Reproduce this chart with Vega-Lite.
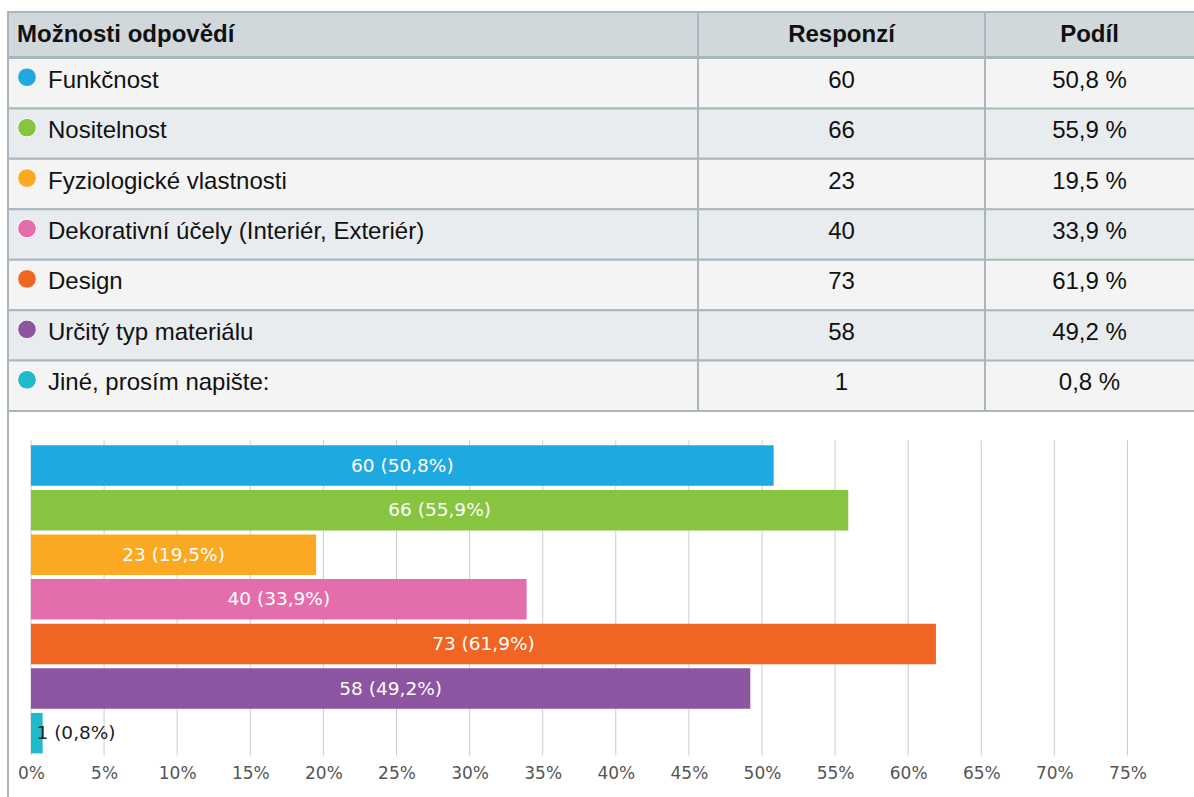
{
  "$schema": "https://vega.github.io/schema/vega-lite/v6.json",
  "padding": {"left": 7, "top": 11, "right": 0, "bottom": 0},
  "background": "white",
  "config": {"view": {"stroke": null}, "font": "Liberation Sans"},
  "datasets": {
    "options": [
      {"option": "Funkčnost", "count": 60, "share": 50.8},
      {"option": "Nositelnost", "count": 66, "share": 55.9},
      {"option": "Fyziologické vlastnosti", "count": 23, "share": 19.5},
      {"option": "Dekorativní účely (Interiér, Exteriér)", "count": 40, "share": 33.9},
      {"option": "Design", "count": 73, "share": 61.9},
      {"option": "Určitý typ materiálu", "count": 58, "share": 49.2},
      {"option": "Jiné, prosím napište:", "count": 1, "share": 0.8}
    ],
    "grid": [{"v": 0}, {"v": 5}, {"v": 10}, {"v": 15}, {"v": 20}, {"v": 25}, {"v": 30}, {"v": 35}, {"v": 40}, {"v": 45}, {"v": 50}, {"v": 55}, {"v": 60}, {"v": 65}, {"v": 70}, {"v": 75}]
  },
  "spacing": -2,
  "vconcat": [
    {
      "spacing": 0,
      "bounds": "flush",
      "hconcat": [
        {
          "width": 690, "height": 45,
          "view": {"fill": "#D0D8DC", "stroke": "#A9B7BD", "strokeWidth": 2},
          "data": {"values": [{"h": "Možnosti odpovědí"}]},
          "mark": {"type": "text", "align": "left", "baseline": "middle", "dx": 9, "fontWeight": "bold", "fontSize": 24, "font": "Liberation Sans", "color": "#111111"},
          "encoding": {
            "text": {"field": "h"},
            "x": {"datum": 0, "type": "quantitative", "scale": {"domain": [0, 1], "nice": false}, "axis": null}
          }
        },
        {
          "width": 287, "height": 45,
          "view": {"fill": "#D0D8DC", "stroke": "#A9B7BD", "strokeWidth": 2},
          "data": {"values": [{"h": "Responzí"}]},
          "mark": {"type": "text", "align": "center", "baseline": "middle", "fontWeight": "bold", "fontSize": 24, "font": "Liberation Sans", "color": "#111111"},
          "encoding": {
            "text": {"field": "h"},
            "x": {"datum": 0.5, "type": "quantitative", "scale": {"domain": [0, 1], "nice": false}, "axis": null}
          }
        },
        {
          "width": 209, "height": 45,
          "view": {"fill": "#D0D8DC"},
          "data": {"values": [{"h": "Podíl"}]},
          "encoding": {
            "x": {"datum": 0.5, "type": "quantitative", "scale": {"domain": [0, 1], "nice": false}, "axis": null}
          },
          "layer": [
            {
              "mark": {"type": "text", "align": "center", "baseline": "middle", "fontWeight": "bold", "fontSize": 24, "font": "Liberation Sans", "color": "#111111"},
              "encoding": {"text": {"field": "h"}}
            },
            {
              "mark": {"type": "rule", "color": "#A9B7BD", "strokeWidth": 2},
              "encoding": {"x": {"datum": 0, "type": "quantitative"}}
            },
            {
              "mark": {"type": "rule", "color": "#A9B7BD", "strokeWidth": 2},
              "encoding": {"x": null, "y": {"datum": 0, "type": "quantitative", "scale": {"domain": [0, 1], "nice": false}, "axis": null}}
            },
            {
              "mark": {"type": "rule", "color": "#A9B7BD", "strokeWidth": 2},
              "encoding": {"x": null, "y": {"datum": 1, "type": "quantitative"}}
            }
          ]
        }
      ]
    },
    {
      "spacing": 0,
      "bounds": "flush",
      "hconcat": [
        {
          "width": 690, "height": 353,
          "data": {"name": "options"},
          "layer": [
            {
              "mark": {"type": "rect", "stroke": "#A9B7BD", "strokeWidth": 2},
              "encoding": {
                "y": {"field": "option", "type": "nominal", "sort": null, "scale": {"paddingInner": 0, "paddingOuter": 0, "round": false}, "axis": null},
                "x": {"datum": 0, "type": "quantitative", "scale": {"domain": [0, 1], "nice": false}, "axis": null},
                "x2": {"datum": 1},
                "fill": {"field": "option", "type": "nominal", "scale": {"domain": ["Funkčnost", "Nositelnost", "Fyziologické vlastnosti", "Dekorativní účely (Interiér, Exteriér)", "Design", "Určitý typ materiálu", "Jiné, prosím napište:"], "range": ["#F4F4F4", "#E8ECEE", "#F4F4F4", "#E8ECEE", "#F4F4F4", "#E8ECEE", "#F4F4F4"]}, "legend": null}
              }
            },
            {
              "mark": {"type": "point", "filled": true, "size": 350, "opacity": 1, "stroke": "white", "strokeWidth": 1, "xOffset": 19, "yOffset": -6},
              "encoding": {
                "y": {"field": "option", "type": "nominal", "sort": null, "axis": null},
                "x": {"datum": 0, "type": "quantitative", "axis": null},
                "color": {"field": "option", "type": "nominal", "scale": {"domain": ["Funkčnost", "Nositelnost", "Fyziologické vlastnosti", "Dekorativní účely (Interiér, Exteriér)", "Design", "Určitý typ materiálu", "Jiné, prosím napište:"], "range": ["#1FA9E1", "#87C540", "#FBA823", "#E46EAB", "#F16522", "#8D54A1", "#1FBBCC"]}, "legend": null}
              }
            },
            {
              "mark": {"type": "text", "align": "left", "baseline": "middle", "dx": 40, "dy": -2.5, "fontSize": 24, "font": "Liberation Sans", "color": "#111111"},
              "encoding": {
                "y": {"field": "option", "type": "nominal", "sort": null, "axis": null},
                "x": {"datum": 0, "type": "quantitative", "axis": null},
                "text": {"field": "option"}
              }
            }
          ]
        },
        {
          "width": 287, "height": 353,
          "data": {"name": "options"},
          "layer": [
            {
              "mark": {"type": "rect", "stroke": "#A9B7BD", "strokeWidth": 2},
              "encoding": {
                "y": {"field": "option", "type": "nominal", "sort": null, "scale": {"paddingInner": 0, "paddingOuter": 0, "round": false}, "axis": null},
                "x": {"datum": 0, "type": "quantitative", "scale": {"domain": [0, 1], "nice": false}, "axis": null},
                "x2": {"datum": 1},
                "fill": {"field": "option", "type": "nominal", "scale": {"domain": ["Funkčnost", "Nositelnost", "Fyziologické vlastnosti", "Dekorativní účely (Interiér, Exteriér)", "Design", "Určitý typ materiálu", "Jiné, prosím napište:"], "range": ["#F4F4F4", "#E8ECEE", "#F4F4F4", "#E8ECEE", "#F4F4F4", "#E8ECEE", "#F4F4F4"]}, "legend": null}
              }
            },
            {
              "mark": {"type": "text", "align": "center", "baseline": "middle", "dy": -2.5, "fontSize": 24, "font": "Liberation Sans", "color": "#111111"},
              "encoding": {
                "y": {"field": "option", "type": "nominal", "sort": null, "axis": null},
                "x": {"datum": 0.5, "type": "quantitative", "axis": null},
                "text": {"field": "count", "type": "quantitative"}
              }
            }
          ]
        },
        {
          "width": 209, "height": 353,
          "data": {"name": "options"},
          "transform": [{"calculate": "replace(format(datum.share, '.1f'), '.', ',') + ' %'", "as": "shareLabel"}],
          "layer": [
            {
              "mark": {"type": "rect"},
              "encoding": {
                "y": {"field": "option", "type": "nominal", "sort": null, "scale": {"paddingInner": 0, "paddingOuter": 0, "round": false}, "axis": null},
                "x": {"datum": 0, "type": "quantitative", "scale": {"domain": [0, 1], "nice": false}, "axis": null},
                "x2": {"datum": 1},
                "fill": {"field": "option", "type": "nominal", "scale": {"domain": ["Funkčnost", "Nositelnost", "Fyziologické vlastnosti", "Dekorativní účely (Interiér, Exteriér)", "Design", "Určitý typ materiálu", "Jiné, prosím napište:"], "range": ["#F4F4F4", "#E8ECEE", "#F4F4F4", "#E8ECEE", "#F4F4F4", "#E8ECEE", "#F4F4F4"]}, "legend": null}
              }
            },
            {
              "mark": {"type": "rule", "color": "#A9B7BD", "strokeWidth": 2},
              "encoding": {
                "y": {"field": "option", "type": "nominal", "sort": null, "bandPosition": 0, "axis": null}
              }
            },
            {
              "mark": {"type": "rule", "color": "#A9B7BD", "strokeWidth": 2},
              "encoding": {
                "y": {"datum": "Jiné, prosím napište:", "type": "nominal", "bandPosition": 1, "axis": null}
              }
            },
            {
              "mark": {"type": "rule", "color": "#A9B7BD", "strokeWidth": 2},
              "encoding": {
                "x": {"datum": 0, "type": "quantitative", "axis": null}
              }
            },
            {
              "mark": {"type": "text", "align": "center", "baseline": "middle", "dy": -2.5, "fontSize": 24, "font": "Liberation Sans", "color": "#111111"},
              "encoding": {
                "y": {"field": "option", "type": "nominal", "sort": null, "axis": null},
                "x": {"datum": 0.5, "type": "quantitative", "axis": null},
                "text": {"field": "shareLabel"}
              }
            }
          ]
        }
      ]
    },
    {
      "width": 1186, "height": 387,
      "layer": [
        {
          "data": {"name": "grid"},
          "mark": {"type": "rule", "color": "#CCCCCC", "strokeWidth": 1},
          "encoding": {
            "x": {"field": "v", "type": "quantitative", "scale": {"domain": [-1.573, 79.55], "nice": false, "zero": false}, "axis": {"values": [0, 5, 10, 15, 20, 25, 30, 35, 40, 45, 50, 55, 60, 65, 70, 75], "labelExpr": "datum.value + '%'", "grid": false, "domain": false, "ticks": false, "orient": "bottom", "offset": -34, "labelPadding": 0, "labelFont": "DejaVu Sans", "labelFontSize": 17, "labelColor": "#555555", "title": null, "labelFlush": false, "labelOverlap": false, "labelBound": false, "labelBaseline": "top"}},
            "y": {"datum": "Funkčnost", "type": "nominal", "bandPosition": -0.123, "scale": {"domain": ["Funkčnost", "Nositelnost", "Fyziologické vlastnosti", "Dekorativní účely (Interiér, Exteriér)", "Design", "Určitý typ materiálu", "Jiné, prosím napište:"], "paddingInner": 0.092, "paddingOuter": 0.8845, "align": 0.422, "round": false}, "axis": null},
            "y2": {"datum": "Jiné, prosím napište:", "bandPosition": 1.05}
          }
        },
        {
          "data": {"name": "options"},
          "mark": {"type": "bar"},
          "encoding": {
            "x": {"field": "share", "type": "quantitative"},
            "x2": {"datum": 0},
            "y": {"field": "option", "type": "nominal", "sort": null, "axis": null},
            "color": {"field": "option", "type": "nominal", "scale": {"domain": ["Funkčnost", "Nositelnost", "Fyziologické vlastnosti", "Dekorativní účely (Interiér, Exteriér)", "Design", "Určitý typ materiálu", "Jiné, prosím napište:"], "range": ["#1FA9E1", "#87C540", "#FBA823", "#E46EAB", "#F16522", "#8D54A1", "#1FBBCC"]}, "legend": null}
          }
        },
        {
          "data": {"name": "options"},
          "transform": [
            {"filter": "datum.share >= 5"},
            {"calculate": "datum.count + ' (' + replace(format(datum.share, '.1f'), '.', ',') + '%)'", "as": "lbl"},
            {"calculate": "datum.share / 2", "as": "mid"}
          ],
          "mark": {"type": "text", "align": "center", "baseline": "middle", "font": "DejaVu Sans", "fontSize": 18.5, "color": "#FFFFFF"},
          "encoding": {
            "x": {"field": "mid", "type": "quantitative"},
            "y": {"field": "option", "type": "nominal", "sort": null, "axis": null},
            "text": {"field": "lbl"}
          }
        },
        {
          "data": {"name": "options"},
          "transform": [
            {"filter": "datum.share < 5"},
            {"calculate": "datum.count + ' (' + replace(format(datum.share, '.1f'), '.', ',') + '%)'", "as": "lbl"}
          ],
          "mark": {"type": "text", "align": "left", "baseline": "middle", "dx": 5.5, "font": "DejaVu Sans", "fontSize": 18.5, "color": "#222222"},
          "encoding": {
            "x": {"datum": 0, "type": "quantitative"},
            "y": {"field": "option", "type": "nominal", "sort": null, "axis": null},
            "text": {"field": "lbl"}
          }
        },
        {
          "data": {"values": [{"edge": -1.573}]},
          "mark": {"type": "rule", "color": "#A9B7BD", "strokeWidth": 2},
          "encoding": {
            "x": {"field": "edge", "type": "quantitative"}
          }
        }
      ]
    }
  ]
}
